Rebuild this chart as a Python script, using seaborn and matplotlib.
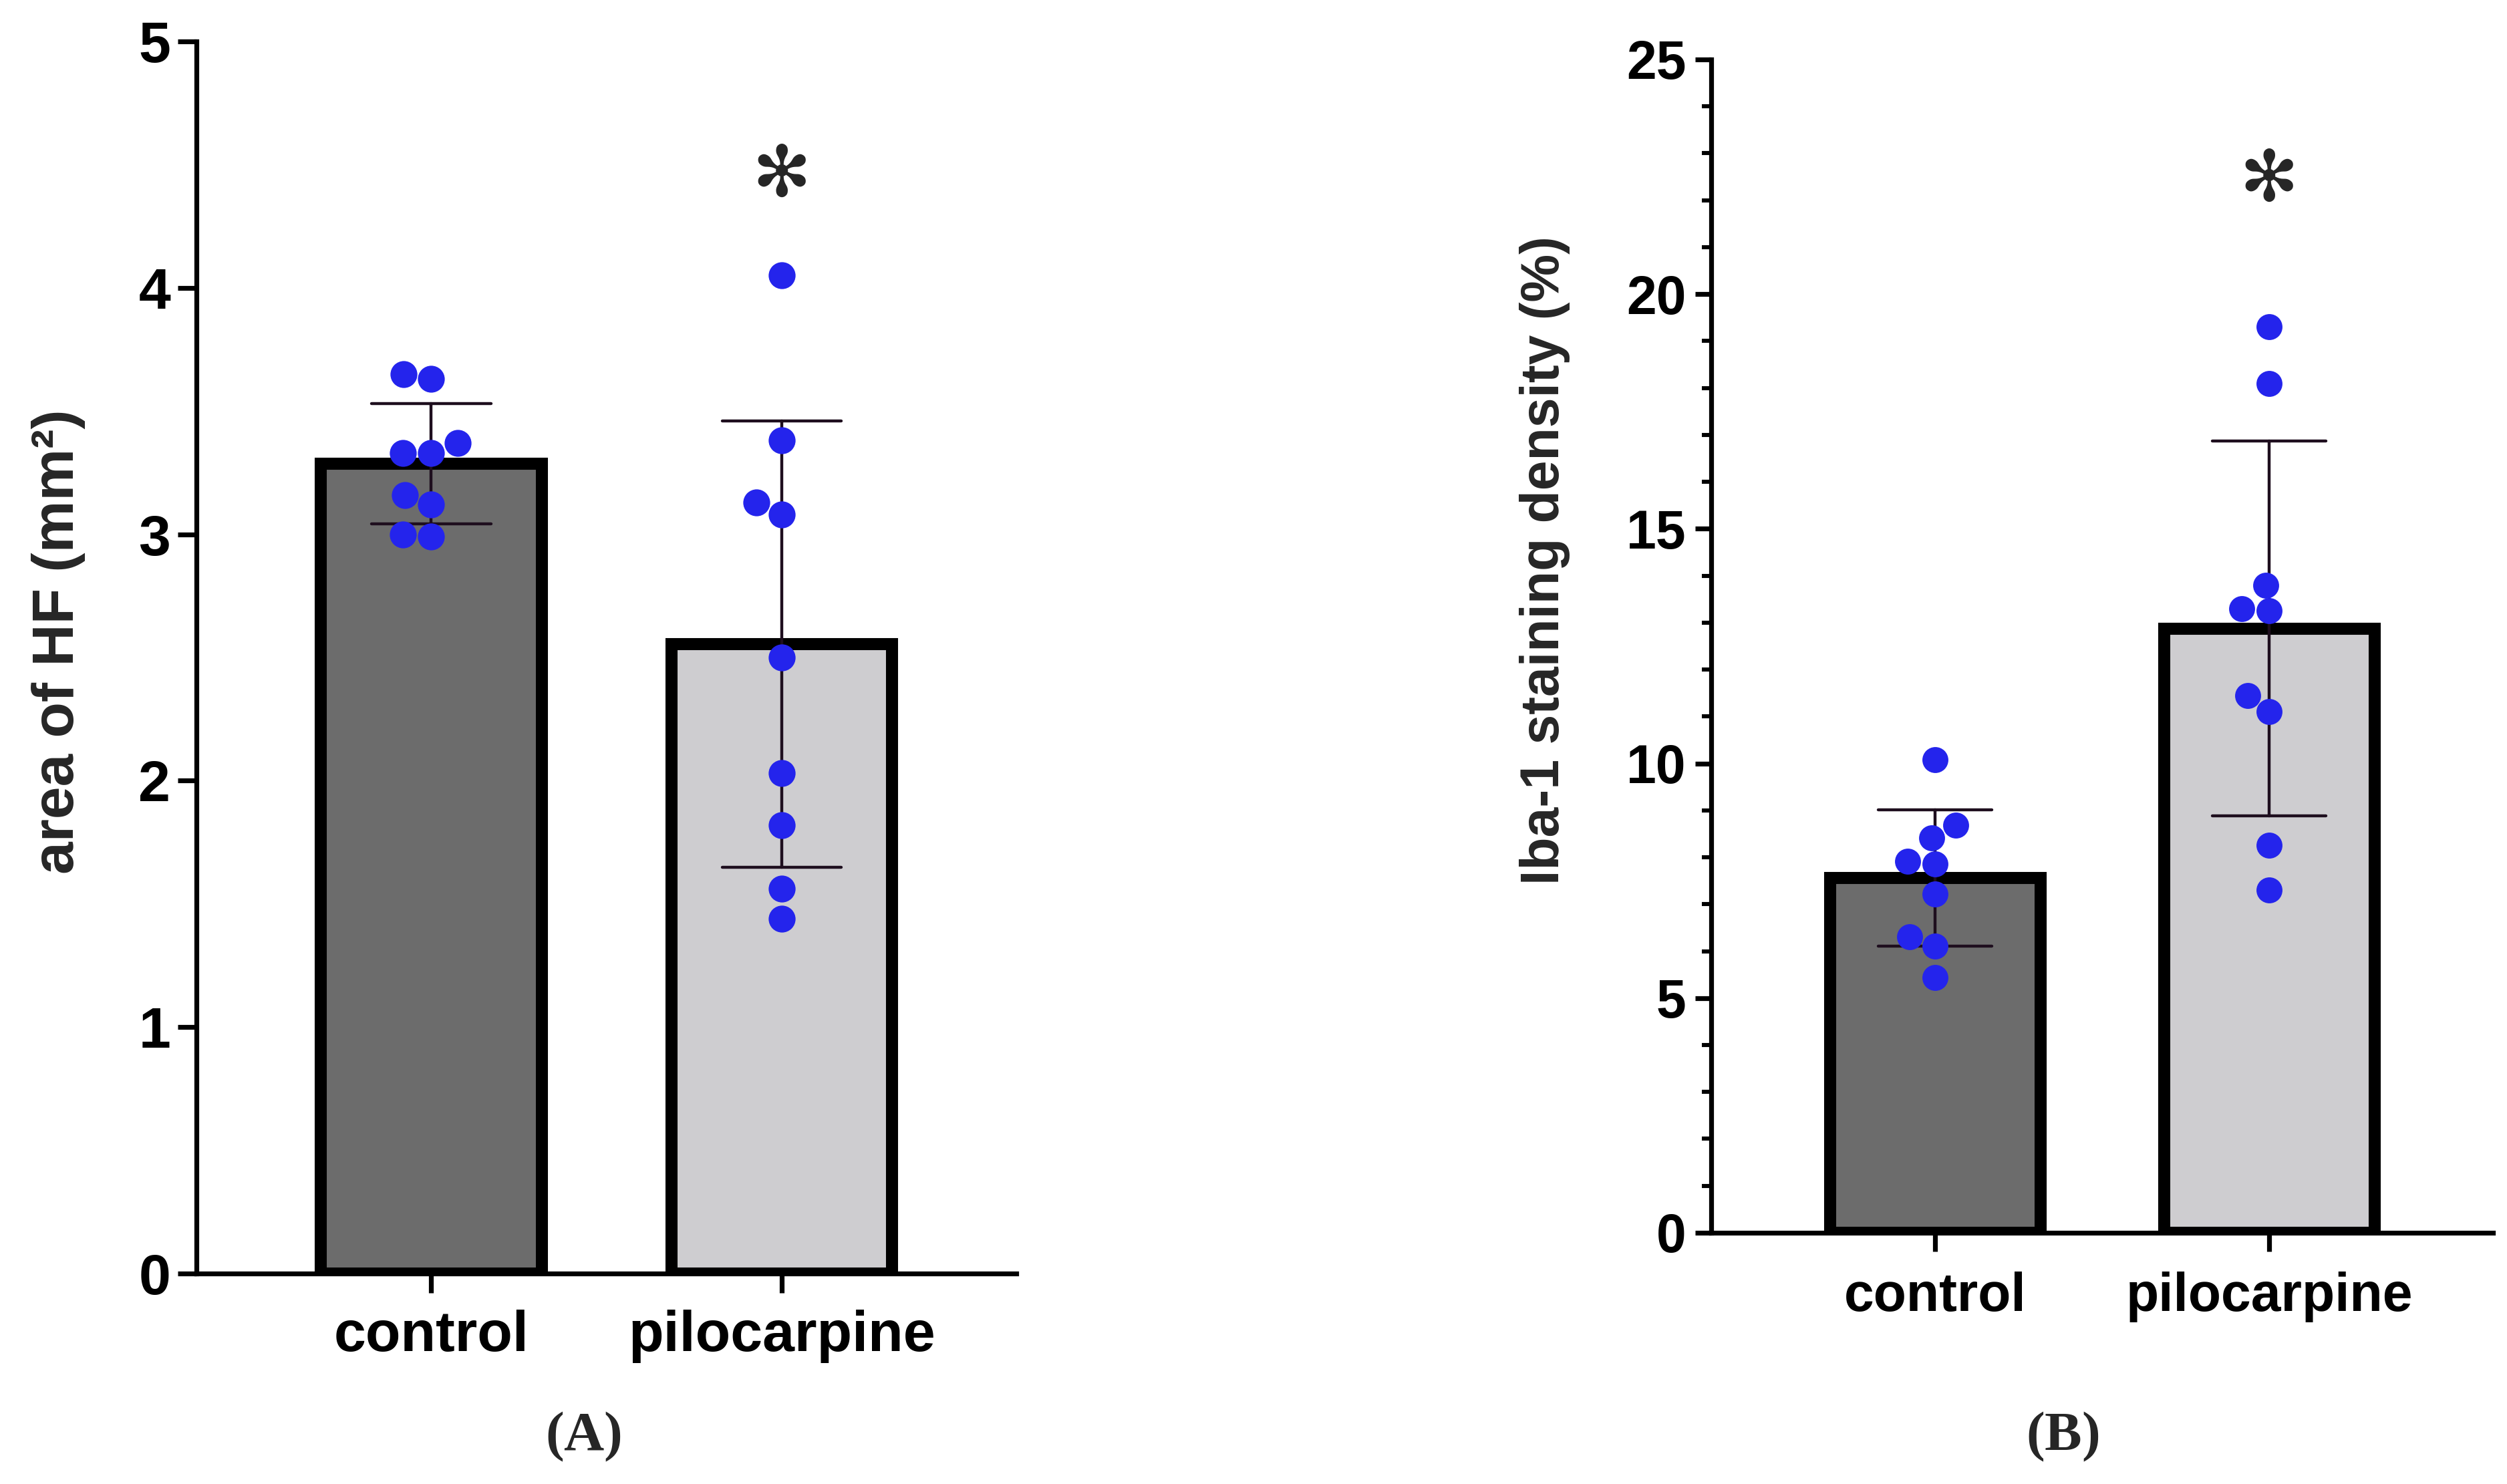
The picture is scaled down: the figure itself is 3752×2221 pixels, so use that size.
import numpy as np
import pandas as pd
import matplotlib
matplotlib.use("Agg")
import matplotlib.pyplot as plt
from matplotlib.ticker import MultipleLocator
import seaborn as sns

# groups on the x axis
groups = ["control", "pilocarpine"]

# (A) area of HF (mm2), one value per animal
hf_control = [3.65, 3.63, 3.37, 3.33, 3.33, 3.16, 3.12, 2.99, 3.00]
hf_pilo = [4.05, 3.38, 3.13, 3.08, 2.50, 2.03, 1.82, 1.56, 1.44]

# (B) Iba-1 staining density (%), one value per animal
iba_control = [10.08, 8.69, 8.41, 7.86, 7.92, 7.22, 6.30, 6.11, 5.44]
iba_pilo = [19.30, 18.10, 13.80, 13.25, 13.30, 11.45, 11.10, 8.25, 7.30]

bar_colors = ["#6c6c6c", "#cecdd0"]
dot_color = "#2424ec"
err_color = "#1e0e1e"

sns.set_style("ticks")
plt.rcParams["font.family"] = ["Liberation Sans", "DejaVu Sans"]
plt.rcParams["font.weight"] = "bold"
plt.rcParams["mathtext.fontset"] = "custom"
plt.rcParams["mathtext.rm"] = "Liberation Serif"
plt.rcParams["mathtext.bf"] = "Liberation Serif:bold"


def make_df(ctrl, pilo):
    return pd.DataFrame({
        "group": [groups[0]] * len(ctrl) + [groups[1]] * len(pilo),
        "value": ctrl + pilo,
    })


def draw_panel(ax, df, fs, dot_size):
    sns.barplot(data=df, x="group", y="value", hue="group", palette=bar_colors,
                legend=False, errorbar="sd", capsize=0.34, width=0.63,
                edgecolor="black", linewidth=6.5,
                err_kws={"color": err_color, "linewidth": 1.6}, ax=ax)
    sns.swarmplot(data=df, x="group", y="value", color=dot_color, size=dot_size,
                  ax=ax, zorder=4)
    sns.despine(ax=ax)
    for side in ["left", "bottom"]:
        ax.spines[side].set_linewidth(2.6)
        ax.spines[side].set_color("black")
    ax.set_xlim(-0.67, 1.67)
    ax.set_xlabel("")
    ax.tick_params(axis="both", which="major", width=2.6, color="black",
                   labelsize=fs, labelcolor="black")


fig = plt.figure(figsize=(18.76, 11.105), dpi=200)

# ---- panel A
axA = fig.add_axes([0.0784, 0.142, 0.327, 0.830])
draw_panel(axA, make_df(hf_control, hf_pilo), 31, 14.5)
axA.set_ylim(0, 5)
axA.yaxis.set_major_locator(MultipleLocator(1))
axA.tick_params(axis="y", length=10, pad=4)
axA.tick_params(axis="x", length=10.5, pad=9)
axA.set_ylabel("area of HF (mm²)", fontsize=31.5, fontweight="bold")
axA.yaxis.set_label_coords(-0.15, 0.513)
axA.yaxis.label.set_verticalalignment("baseline")
axA.text(1, 4.45, "✻", family="DejaVu Sans", fontweight="normal",
         fontsize=38, ha="center", va="center")

# ---- panel B
axB = fig.add_axes([0.6826, 0.1693, 0.3118, 0.7907])
draw_panel(axB, make_df(iba_control, iba_pilo), 29, 14)
axB.set_ylim(0, 25)
axB.yaxis.set_major_locator(MultipleLocator(5))
axB.yaxis.set_minor_locator(MultipleLocator(1))
axB.tick_params(axis="y", which="major", length=8.6, pad=5)
axB.tick_params(axis="y", which="minor", length=5, width=2.2, color="black")
axB.tick_params(axis="x", length=10, pad=11)
axB.set_ylabel("Iba-1 staining density (%)", fontsize=29, fontweight="bold")
axB.yaxis.set_label_coords(-0.195, 0.573)
axB.yaxis.label.set_verticalalignment("baseline")
axB.text(1, 22.4, "✻", family="DejaVu Sans", fontweight="normal",
         fontsize=38, ha="center", va="center")

# panel letters
fig.text(0.2327, 0.023, r"$\mathrm{(}\mathbf{A}\mathrm{)}$", fontsize=30,
         ha="center", va="baseline")
fig.text(0.8228, 0.023, r"$\mathrm{(}\mathbf{B}\mathrm{)}$", fontsize=30,
         ha="center", va="baseline")

fig.savefig("out.png", dpi=200, facecolor="white")
